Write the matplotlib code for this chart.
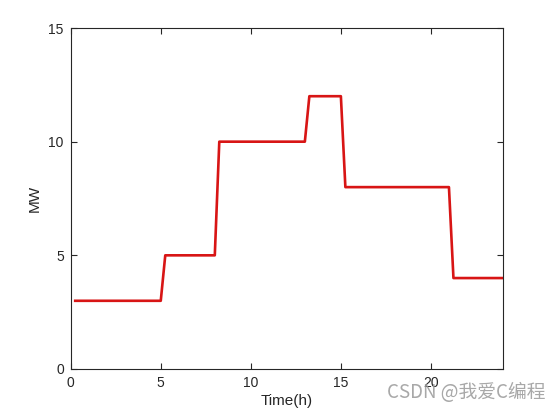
import matplotlib
matplotlib.use("Agg")
import matplotlib.pyplot as plt

plt.rcParams["font.family"] = ["Liberation Sans", "DejaVu Sans"]

# load profile corner points (15-min steps between hourly levels)
time_h = [0.25, 5, 5.25, 8, 8.25, 13, 13.25, 15, 15.25, 21, 21.25, 24]
load_mw = [3, 3, 5, 5, 10, 10, 12, 12, 8, 8, 4, 4]

x_ticks = [0, 5, 10, 15, 20]
y_ticks = [0, 5, 10, 15]

fig = plt.figure(figsize=(5.58, 4.12), dpi=100)
ax = fig.add_axes([0.1267, 0.1044, 0.7747, 0.8276])

ax.plot(time_h, load_mw, color="#d81515", linewidth=1.9)

ax.set_xlim(0, 24)
ax.set_ylim(0, 15)
ax.set_xticks(x_ticks)
ax.set_yticks(y_ticks)
ax.tick_params(direction="in", top=True, right=True, length=4, width=0.8,
               labelsize=10, colors="#262626", pad=5)
for s in ax.spines.values():
    s.set_linewidth(0.8)
    s.set_color("#262626")

ax.set_xlabel("Time(h)", fontsize=11, color="#262626", labelpad=3)
ax.set_ylabel("MW", fontsize=11, color="#262626", labelpad=5)

# watermark
fig.text(0.977, 0.048, "CSDN @我爱C编程", ha="right", va="center",
         fontsize=13.5, color="#999999", alpha=0.85,
         family=["Noto Sans CJK SC", "DejaVu Sans"])

fig.savefig("out.png", dpi=100)
